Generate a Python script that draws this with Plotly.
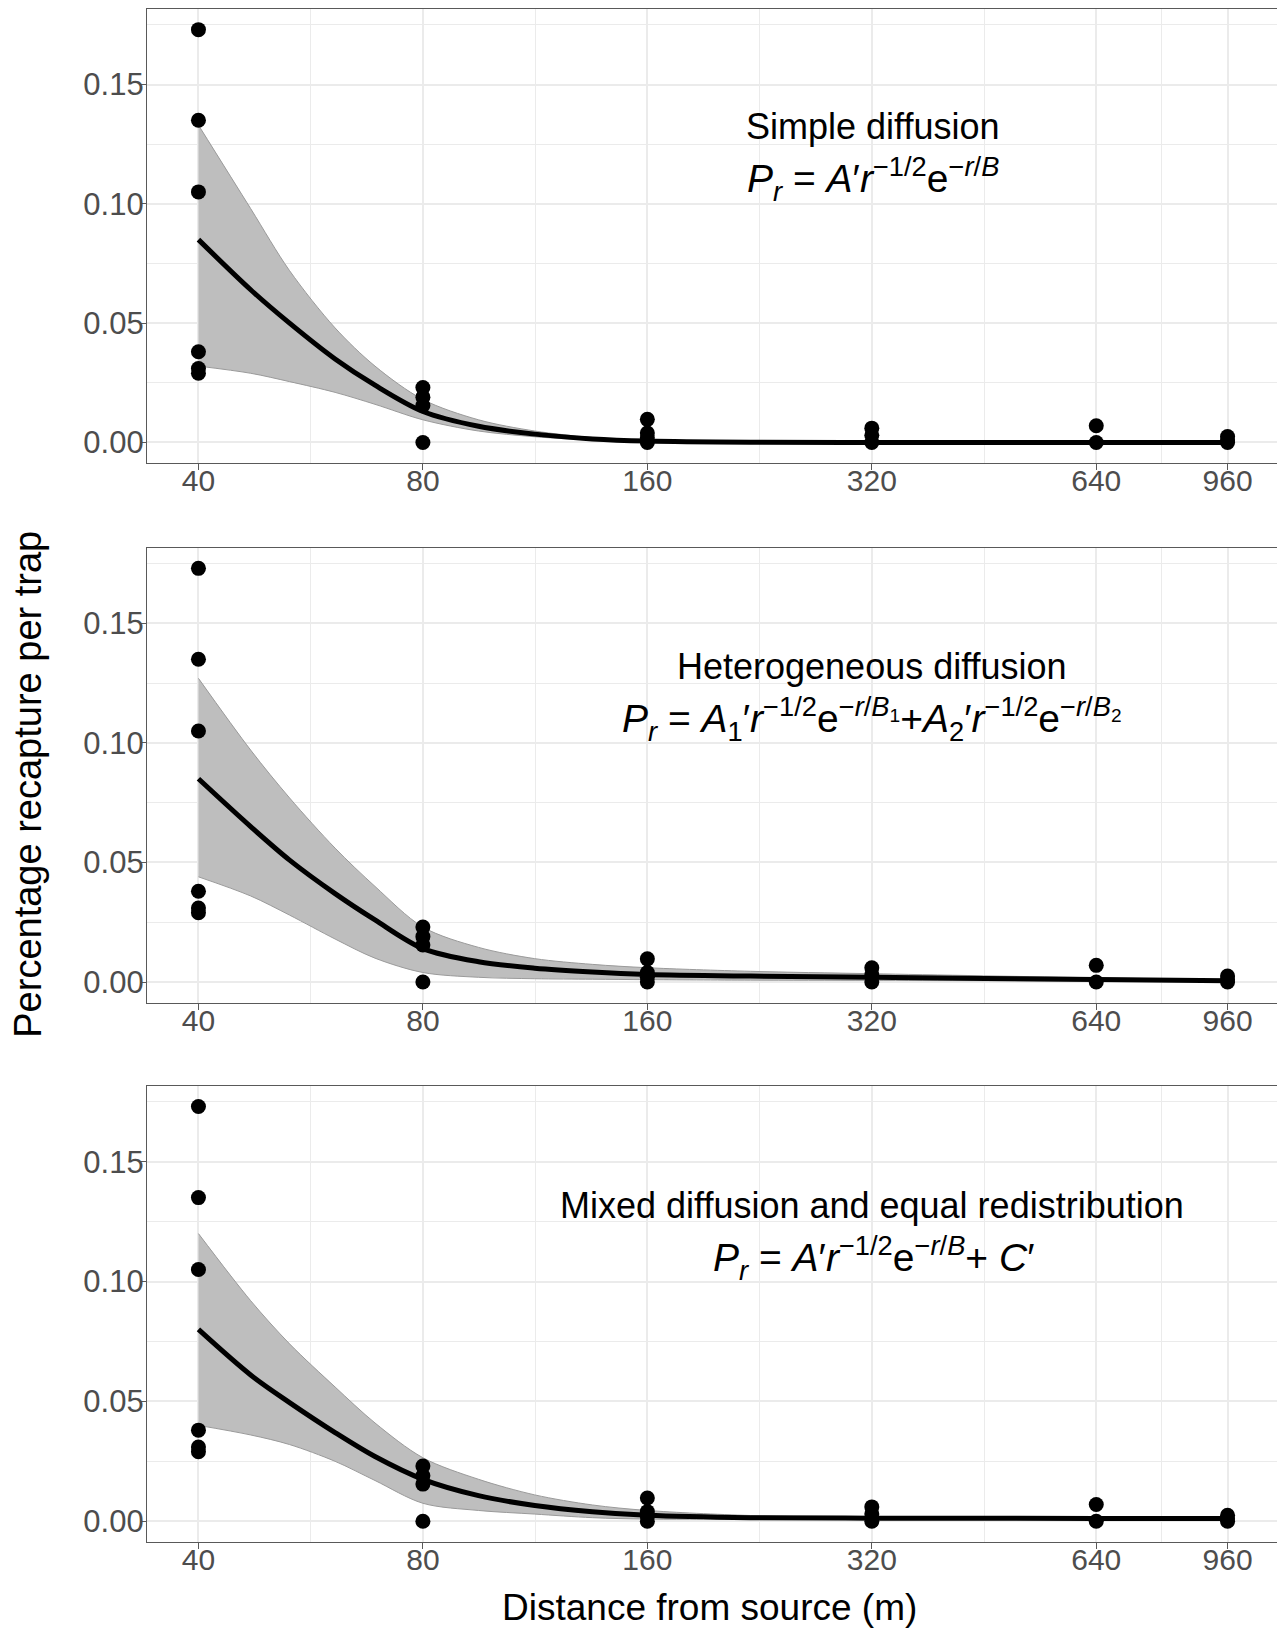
import math
import plotly.graph_objects as go

# ---------------- data ----------------
obs_r = [40, 40, 40, 40, 40, 40,
         80, 80, 80, 80,
         160, 160, 160, 160,
         320, 320, 320,
         640, 640,
         960, 960, 960]
obs_p = [0.173, 0.135, 0.105, 0.038, 0.031, 0.029,
         0.023, 0.019, 0.0155, 0.0,
         0.0097, 0.004, 0.002, 0.0,
         0.006, 0.003, 0.0,
         0.007, 0.0,
         0.0025, 0.001, 0.0]

fit_r = [40, 47, 53, 61, 69, 80, 95, 113, 135, 160, 220, 320, 640, 960]

fit1 = [0.085, 0.064, 0.050, 0.035, 0.024, 0.013, 0.0068, 0.0035, 0.0015, 0.0006, 0.0001, 0.0, 0.0, 0.0]
up1 = [0.133, 0.098, 0.072, 0.048, 0.032, 0.018, 0.0095, 0.0048, 0.0021, 0.0009, 0.0002, 0.0, 0.0, 0.0]
lo1 = [0.032, 0.029, 0.0255, 0.021, 0.016, 0.0095, 0.0048, 0.0024, 0.0010, 0.0004, 0.0001, 0.0, 0.0, 0.0]

fit2 = [0.085, 0.065, 0.051, 0.037, 0.026, 0.014, 0.0085, 0.0058, 0.0042, 0.0032, 0.0025, 0.0020, 0.0011, 0.0006]
up2 = [0.127, 0.097, 0.077, 0.056, 0.040, 0.023, 0.0145, 0.0098, 0.0074, 0.0060, 0.0045, 0.0035, 0.0018, 0.0010]
lo2 = [0.044, 0.036, 0.028, 0.018, 0.010, 0.004, 0.0020, 0.0014, 0.0012, 0.0010, 0.0008, 0.0007, 0.0004, 0.0002]

fit3 = [0.080, 0.061, 0.0495, 0.037, 0.027, 0.0175, 0.0107, 0.0066, 0.0040, 0.0025, 0.0015, 0.0013, 0.0012, 0.0012]
up3 = [0.120, 0.092, 0.074, 0.056, 0.041, 0.0265, 0.0175, 0.0110, 0.0068, 0.0045, 0.0024, 0.0016, 0.0013, 0.0013]
lo3 = [0.040, 0.036, 0.032, 0.025, 0.017, 0.0075, 0.0045, 0.0030, 0.0015, 0.0009, 0.0009, 0.0010, 0.0011, 0.0011]

x_ticks = [40, 80, 160, 320, 640, 960]
x_tick_labels = ["40", "80", "160", "320", "640", "960"]
y_ticks = [0.00, 0.05, 0.10, 0.15]
y_tick_labels = ["0.00", "0.05", "0.10", "0.15"]

panel_titles = ["Simple diffusion", "Heterogeneous diffusion",
                "Mixed diffusion and equal redistribution"]
panel_formulas = [
    "<i>P</i><sub><i>r</i></sub> = <i>A</i>′<i>r</i><sup>−1/2</sup>e<sup>−<i>r</i>/<i>B</i></sup>",
    "<i>P</i><sub><i>r</i></sub> = <i>A</i><sub>1</sub>′<i>r</i><sup>−1/2</sup>e<sup>−<i>r</i>/<i>B</i><sub>1</sub></sup>+"
    "<i>A</i><sub>2</sub>′<i>r</i><sup>−1/2</sup>e<sup>−<i>r</i>/<i>B</i><sub>2</sub></sup>",
    "<i>P</i><sub><i>r</i></sub> = <i>A</i>′<i>r</i><sup>−1/2</sup>e<sup>−<i>r</i>/<i>B</i></sup>+ <i>C</i>′",
]
x_title = "Distance from source (m)"
y_title = "Percentage recapture per trap"

# ---------------- figure ----------------
FONT = "Liberation Sans, Arial, sans-serif"
OFF = 8  # default page body margin in the browser
W, H = 1285 - OFF, 1629 - OFF
ML, MR, MT, MB = 146.5 - OFF, 6, 1, 1629 - 1541.6
plot_h = H - MT - MB
plot_w = W - ML - MR


def py(ypx):
    return (H - MB - (ypx - OFF)) / plot_h


def px(xpx):
    return ((xpx - OFF) - ML) / plot_w


domains = [[py(463), 1.0], [py(1002.5), py(547.5)], [0.0, py(1085.5)]]

fits = [fit1, fit2, fit3]
ups = [up1, up2, up3]
los = [lo1, lo2, lo3]

fig = go.Figure()

xr = [math.log10(40) - 0.069, math.log10(960) + 0.069]
yr = [-0.00865, 0.18165]

for i in range(3):
    xa = "x" if i == 0 else f"x{i+1}"
    ya = "y" if i == 0 else f"y{i+1}"
    fig.add_trace(go.Scatter(x=fit_r, y=los[i], mode="lines",
                             line=dict(color="#9A9A9A", width=1, shape="spline", smoothing=0.9),
                             xaxis=xa, yaxis=ya, showlegend=False, hoverinfo="skip"))
    fig.add_trace(go.Scatter(x=fit_r, y=ups[i], mode="lines", fill="tonexty",
                             fillcolor="#BEBEBE",
                             line=dict(color="#9A9A9A", width=1, shape="spline", smoothing=0.9),
                             xaxis=xa, yaxis=ya, showlegend=False, hoverinfo="skip"))
    fig.add_trace(go.Scatter(x=obs_r, y=obs_p, mode="markers",
                             marker=dict(color="black", size=15),
                             xaxis=xa, yaxis=ya, showlegend=False))
    fig.add_trace(go.Scatter(x=fit_r, y=fits[i], mode="lines",
                             line=dict(color="black", width=5, shape="spline", smoothing=0.9),
                             xaxis=xa, yaxis=ya, showlegend=False))

    axis_common = dict(showline=True, mirror=True, linecolor="#595959", linewidth=1.3,
                       ticks="outside", ticklen=6, tickwidth=1.3, tickcolor="#595959",
                       showgrid=True, gridcolor="#EBEBEB", gridwidth=1.6, zeroline=False)
    xkey = "xaxis" if i == 0 else f"xaxis{i+1}"
    ykey = "yaxis" if i == 0 else f"yaxis{i+1}"
    fig.update_layout({
        xkey: dict(type="log", range=xr, domain=[0, 1], anchor=ya,
                   tickmode="array", tickvals=x_ticks, ticktext=x_tick_labels,
                   ticklabelstandoff=-15,
                   tickfont=dict(family=FONT, size=30, color="#4D4D4D"),
                   minor=dict(tickmode="array",
                              tickvals=[56.57, 113.14, 226.27, 452.55, 783.84],
                              showgrid=True, gridcolor="#EBEBEB", gridwidth=0.8, ticks=""),
                   **axis_common),
        ykey: dict(range=yr, domain=domains[i], anchor=xa,
                   tickmode="array", tickvals=y_ticks, ticktext=y_tick_labels,
                   ticklabelstandoff=-10,
                   tickfont=dict(family=FONT, size=31, color="#4D4D4D"),
                   minor=dict(tickmode="array", tickvals=[0.025, 0.075, 0.125, 0.175],
                              showgrid=True, gridcolor="#EBEBEB", gridwidth=0.8, ticks=""),
                   **axis_common),
    })

annotations = []
title_pos = [(872.6, 126, 873, 179), (871.5, 666, 871.5, 719), (871.5, 1205, 873, 1258)]
for i in range(3):
    tx, ty, fx, fy = title_pos[i]
    annotations.append(dict(text=panel_titles[i], xref="paper", yref="paper",
                            x=px(tx), y=py(ty), xanchor="center", yanchor="middle",
                            showarrow=False, font=dict(family=FONT, size=36, color="black")))
    annotations.append(dict(text=panel_formulas[i], xref="paper", yref="paper",
                            x=px(fx), y=py(fy), xanchor="center", yanchor="middle",
                            showarrow=False, font=dict(family=FONT, size=39, color="black")))

annotations.append(dict(text=x_title, xref="paper", yref="paper", x=px(709), y=py(1607),
                        xanchor="center", yanchor="middle", showarrow=False,
                        font=dict(family=FONT, size=37, color="black")))
annotations.append(dict(text=y_title, xref="paper", yref="paper", x=px(28), y=py(784),
                        xanchor="center", yanchor="middle", showarrow=False, textangle=-90,
                        font=dict(family=FONT, size=38, color="black")))

fig.update_layout(width=W, height=H,
                  margin=dict(l=ML, r=MR, t=MT, b=MB, autoexpand=False),
                  paper_bgcolor="white", plot_bgcolor="white",
                  annotations=annotations, showlegend=False)

fig.write_html("out.html")
